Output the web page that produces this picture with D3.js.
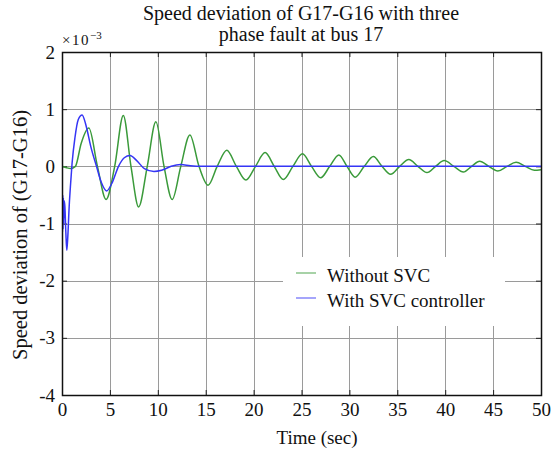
<!DOCTYPE html>
<html>
<head>
<meta charset="utf-8">
<script src="https://cdn.jsdelivr.net/npm/d3@7"></script>
<style>
  html, body { margin: 0; padding: 0; background: #fff; }
  svg { display: block; }
  text { font-family: "Liberation Serif", "Times New Roman", serif; fill: #111; }
</style>
</head>
<body>
<svg id="chart" width="557" height="450"></svg>
<script>
// ---- data (values ×10^-3) ----
const titleLines = ["Speed deviation of G17-G16 with three", "phase fault at bus 17"];
const xLabel = "Time (sec)";
const yLabel = "Speed deviation of (G17-G16)";
const seriesNames = ["Without SVC", "With SVC controller"];
const xTicks = [0, 5, 10, 15, 20, 25, 30, 35, 40, 45, 50];
const yTicks = [-4, -3, -2, -1, 0, 1, 2];

const timeWithout = [0, 0.4, 0.9, 1.4, 2.0, 2.8, 3.7, 4.6, 5.5, 6.4, 7.2, 8.0, 8.9, 9.8, 10.65, 11.5, 12.4, 13.35, 14.3, 15.25, 16.2, 17.2, 18.2, 19.2, 20.2, 21.2, 22.15, 23.1, 24.1, 25.1, 26.05, 27.0, 27.95, 28.9, 29.75, 30.6, 31.55, 32.5, 33.4, 34.3, 35.25, 36.2, 37.15, 38.1, 39.0, 39.9, 40.9, 41.9, 42.75, 43.6, 44.55, 45.5, 46.45, 47.4, 48.35, 49.3, 50];
const valWithout = [0, -0.02, -0.04, 0, 0.4, 0.67, 0, -0.58, 0, 0.89, 0, -0.71, 0, 0.78, 0, -0.58, 0, 0.55, 0, -0.33, 0, 0.28, 0, -0.24, 0, 0.24, 0, -0.23, 0, 0.22, 0, -0.2, 0, 0.2, 0, -0.19, 0, 0.17, 0, -0.14, 0, 0.12, 0, -0.11, 0, 0.1, 0, -0.1, 0, 0.09, 0, -0.08, 0, 0.07, 0, -0.07, -0.06];

const timeWith = [0, 0.02, 0.05, 0.08, 0.11, 0.14, 0.18, 0.22, 0.3, 0.4, 0.5, 0.6, 0.75, 0.9, 1.05, 1.35, 1.7, 2.1, 2.5, 3.0, 3.6, 4.1, 4.65, 5.2, 5.9, 6.5, 7.1, 7.8, 8.6, 9.6, 10.4, 11.4, 12.4, 13.4, 14.5, 50];
const valWith = [-3.75, -0.55, -1.15, -0.5, -1.1, -0.55, -1.0, -0.6, -0.7, -1.15, -1.47, -1.25, -0.7, -0.3, 0.05, 0.5, 0.82, 0.9, 0.72, 0.35, 0, -0.28, -0.43, -0.3, 0, 0.15, 0.19, 0.1, -0.04, -0.09, -0.07, 0, 0.03, 0.01, 0, 0];

const colors = ["#3a9a3a", "#3535f5"];

// ---- layout ----
const svg = d3.select("#chart");
const serif = "'Liberation Serif', 'Times New Roman', serif";
const pL = 62, pR = 541, pT = 52, pB = 395;
const x = d3.scaleLinear().domain([0, 50]).range([pL, pR]);
const y = d3.scaleLinear().domain([-4, 2]).range([pB, pT]);

// grid
const grid = svg.append("g").attr("stroke", "#9a9a9a").attr("stroke-width", 1);
xTicks.slice(1, -1).forEach(t => grid.append("line")
  .attr("x1", Math.round(x(t)) + 0.5).attr("x2", Math.round(x(t)) + 0.5)
  .attr("y1", pT).attr("y2", pB));
yTicks.slice(1, -1).forEach(t => grid.append("line")
  .attr("x1", pL).attr("x2", pR)
  .attr("y1", Math.round(y(t)) + 0.5).attr("y2", Math.round(y(t)) + 0.5));

// axes (ticks inside)
const fs = 19;
const fmt = d => String(d);
const xAxis = d3.axisBottom(x).tickValues(xTicks).tickSize(-5).tickPadding(8).tickFormat(fmt);
const gx = svg.append("g").attr("transform", `translate(0,${pB})`).call(xAxis);
gx.select(".domain").remove();
gx.selectAll("text").attr("font-size", fs).style("font-family", serif).attr("fill", "#111");
gx.selectAll("line").attr("stroke", "#222");

const gxTop = svg.append("g").attr("transform", `translate(0,${pT})`).call(d3.axisTop(x).tickValues(xTicks).tickSize(-5).tickFormat(""));
gxTop.select(".domain").remove();
gxTop.selectAll("line").attr("stroke", "#222");

const yAxis = d3.axisLeft(y).tickValues(yTicks).tickSize(-5).tickPadding(7).tickFormat(fmt);
const gy = svg.append("g").attr("transform", `translate(${pL},0)`).call(yAxis);
gy.select(".domain").remove();
gy.selectAll("text").attr("font-size", fs).style("font-family", serif).attr("fill", "#111");
gy.selectAll("line").attr("stroke", "#222");

const gyR = svg.append("g").attr("transform", `translate(${pR},0)`).call(d3.axisRight(y).tickValues(yTicks).tickSize(-5).tickFormat(""));
gyR.select(".domain").remove();
gyR.selectAll("line").attr("stroke", "#222");

// lines
const line = d3.line().x(d => x(d[0])).y(d => y(d[1])).curve(d3.curveMonotoneX);
const dataWithout = timeWithout.map((t, i) => [t, valWithout[i]]);
const dataWith = timeWith.map((t, i) => [t, valWith[i]]);
svg.append("clipPath").attr("id", "clip").append("rect")
  .attr("x", pL).attr("y", pT).attr("width", pR - pL).attr("height", pB - pT);
const lines = svg.append("g").attr("clip-path", "url(#clip)");
lines.append("path").datum(dataWithout).attr("d", line)
  .attr("fill", "none").attr("stroke", colors[0]).attr("stroke-width", 1.5);
lines.append("path").datum(dataWith).attr("d", line)
  .attr("fill", "none").attr("stroke", colors[1]).attr("stroke-width", 1.5);

// frame
svg.append("rect").attr("x", pL + 0.5).attr("y", pT + 0.5)
  .attr("width", pR - pL).attr("height", pB - pT)
  .attr("fill", "none").attr("stroke", "#111").attr("stroke-width", 1.5);

// legend
const lg = svg.append("g");
lg.append("rect").attr("x", 283).attr("y", 257).attr("width", 222).attr("height", 69).attr("fill", "#fff");
seriesNames.forEach((name, i) => {
  const yy = 273 + i * 25;
  lg.append("line").attr("x1", 296).attr("x2", 316).attr("y1", yy).attr("y2", yy)
    .attr("stroke", colors[i]).attr("stroke-width", 1.5).attr("stroke-opacity", 0.6);
  lg.append("text").attr("x", 327).attr("y", yy + 9).attr("font-size", fs).style("font-family", serif).text(name);
});

// title
titleLines.forEach((t, i) => {
  svg.append("text").attr("x", 301).attr("y", 20 + i * 21)
    .attr("text-anchor", "middle").attr("font-size", 20).style("font-family", serif).text(t);
});

// exponent
const ex = svg.append("text").attr("x", 62).attr("y", 45).attr("font-size", 15)
  .style("font-family", serif).attr("fill", "#3a2a3a").attr("letter-spacing", 1.5);
ex.append("tspan").text("×10");
ex.append("tspan").attr("dy", -6).attr("font-size", 11).attr("letter-spacing", 0).text("−3");

// axis labels
svg.append("text").attr("x", 317).attr("y", 444)
  .attr("text-anchor", "middle").attr("font-size", fs).style("font-family", serif).text(xLabel);
svg.append("text").attr("transform", `translate(27,235) rotate(-90)`)
  .attr("text-anchor", "middle").attr("font-size", 20.5).style("font-family", serif).text(yLabel);
</script>
</body>
</html>
